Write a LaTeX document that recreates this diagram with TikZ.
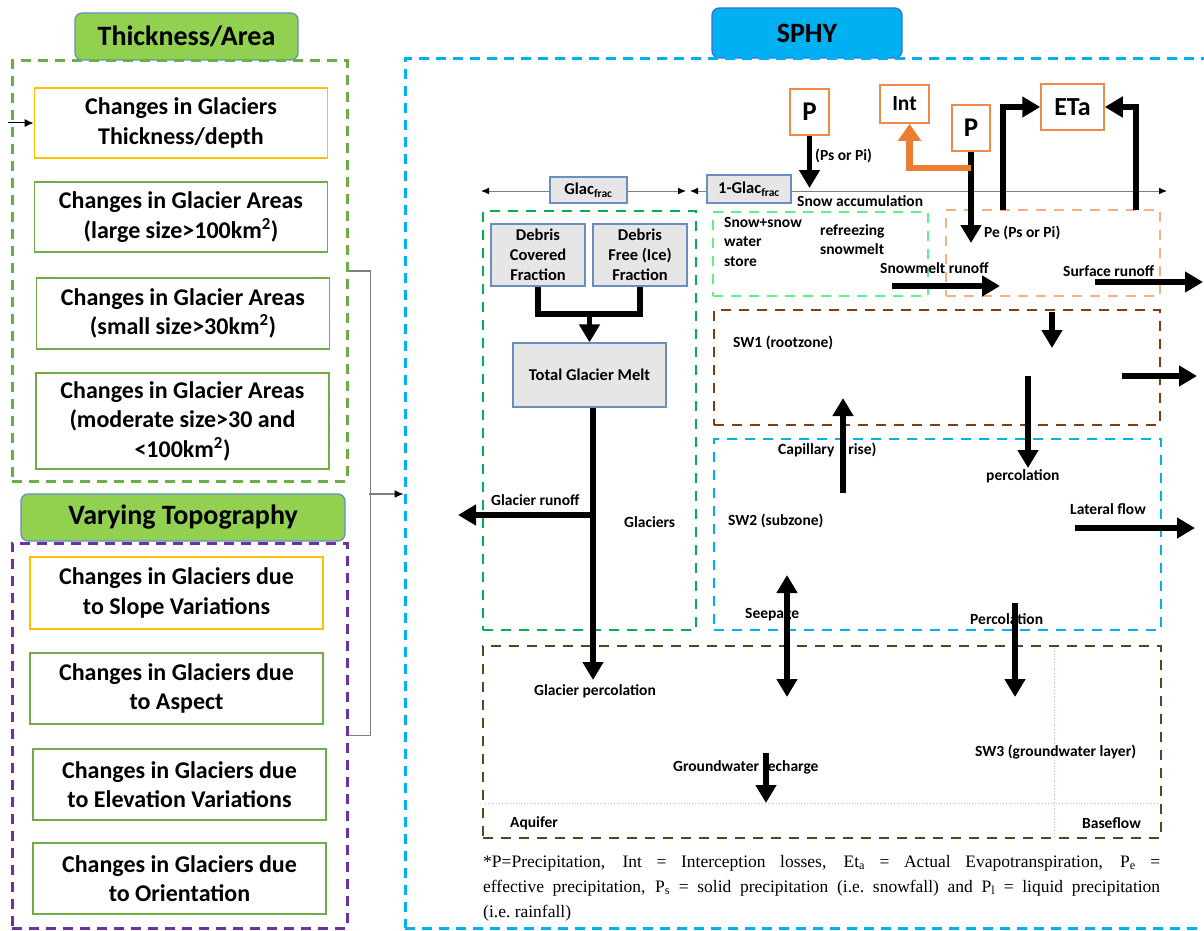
\documentclass[tikz,border=0pt]{standalone}
\usepackage{fontspec}
\setmainfont{Carlito}
\newfontfamily\notefont{Liberation Serif}
\usetikzlibrary{arrows.meta}

\definecolor{tabgreen}{HTML}{92D050}
\definecolor{tabedge}{HTML}{5B8EC9}
\definecolor{leftgreen}{HTML}{6BAE45}
\definecolor{boxgreen}{HTML}{70AD47}
\definecolor{boxorange}{HTML}{FFC000}
\definecolor{topopurple}{HTML}{7030A0}
\definecolor{sphyfill}{HTML}{00B0F0}
\definecolor{sphyedge}{HTML}{3A6FE0}
\definecolor{sphyblue}{HTML}{00B0F0}
\definecolor{glacgreen}{HTML}{00B050}
\definecolor{snowgreen}{HTML}{5EF08C}
\definecolor{peach}{HTML}{F4B183}
\definecolor{soilbrown}{HTML}{843C0C}
\definecolor{gwgreen}{HTML}{375623}
\definecolor{grayfill}{HTML}{E7E6E6}
\definecolor{grayedge}{HTML}{6A8FBF}
\definecolor{pbox}{HTML}{F08A4B}
\definecolor{intorange}{HTML}{ED7D31}
\definecolor{axisgray}{HTML}{7F7F7F}
\definecolor{dotblue}{HTML}{9DC3E6}

\begin{document}
\begin{tikzpicture}[
                x=1pt, y=-1pt,
                lbox/.style={draw=#1, line width=1.8pt, fill=white, minimum width=293pt, align=center, inner sep=0pt,
                             font=\fontsize{24}{29.5}\selectfont\bfseries},
                tabhead/.style={draw=tabedge, fill=#1, line width=1.2pt, rounded corners=7pt,
                                font=\fontsize{28}{30}\selectfont\bfseries},
                dashbox/.style={draw=#1, line width=3pt, dash pattern=on 10pt off 7pt},
                zone/.style={draw=#1, line width=2.6pt, dash pattern=on 10pt off 8pt},
                gbox/.style={draw=grayedge, fill=grayfill, line width=1.2pt, align=center, inner sep=0pt,
                             font=\fontsize{16.5}{20}\selectfont\bfseries},
                obox/.style={draw=pbox, fill=white, line width=1.5pt, inner sep=0pt,
                             font=\fontsize{27}{28}\selectfont\bfseries},
                lab/.style={anchor=west, inner sep=0pt, align=left, font=\fontsize{15.5}{19.5}\selectfont\bfseries},
                flow/.style={line width=5.5pt, -{Triangle[length=18pt,width=20pt]}},
                twoway/.style={line width=5.5pt, {Triangle[length=18pt,width=20pt]}-{Triangle[length=18pt,width=20pt]}},
                intflow/.style={draw=intorange, line width=6.5pt, -{Triangle[length=17pt,width=22pt]}},
                pipe/.style={line width=6pt},
                axisline/.style={draw=axisgray, line width=1pt},
                feed/.style={line width=1pt, -{Latex[length=9pt,width=8pt]}},
                bracket/.style={draw=axisgray, line width=1.2pt},
                dotline/.style={draw=dotblue, line width=0.8pt, dotted}
            ]

                \useasboundingbox (0,0) rectangle (1204,931);
                \clip (0,0) rectangle (1204,931);

                % left side
                \node[tabhead=tabgreen, minimum width=223pt, minimum height=47pt] (thicktab) at (186.5,36.5) {Thickness/Area};
                \node[tabhead=tabgreen, minimum width=324pt, minimum height=47pt] (topotab) at (183,517.5) {Varying Topography};
                \node[dashbox=leftgreen, minimum width=335pt, minimum height=420pt] (thickframe) at (179.5,271) {};
                \node[dashbox=topopurple, minimum width=335pt, minimum height=385pt] (topoframe) at (179.5,735.5) {};

                \foreach \n/\x/\y/\h/\c/\t in {
                    b1/181/123/70/boxorange/{Changes in Glaciers\\Thickness/depth},
                    b2/181/217/70/boxgreen/{Changes in Glacier Areas\\(large size>100km\textsuperscript{2})},
                    b3/183/313.5/71/boxgreen/{Changes in Glacier Areas\\(small size>30km\textsuperscript{2})},
                    b4/182.5/421/96/boxgreen/{Changes in Glacier Areas\\(moderate size>30 and\\<100km\textsuperscript{2})},
                    b5/176.5/593/72/boxorange/{Changes in Glaciers due\\to Slope Variations},
                    b6/176.5/688.5/71/boxgreen/{Changes in Glaciers due\\to Aspect},
                    b7/179.5/784.5/71/boxgreen/{Changes in Glaciers due\\to Elevation Variations},
                    b8/179.5/878.5/71/boxgreen/{Changes in Glaciers due\\to Orientation}} {
                    \node[lbox=\c, minimum height=\h pt] (\n) at (\x,\y) {\t};
                }

                \coordinate (feedin) at (8,123);
                \draw[feed] (feedin) -- (b1.west);

                % SPHY side
                \node[tabhead=sphyfill, draw=sphyedge, minimum width=190pt, minimum height=50pt] (sphytab) at (807,33) {SPHY};
                \node[dashbox=sphyblue, minimum width=810pt, minimum height=869pt] (sphyframe) at (810,493.5) {};

                \draw[bracket] (thickframe.east) -- ++(22,0) |- (topoframe.east);
                \coordinate (brk) at (369,494);
                \draw[bracket, -{Latex[length=9pt,width=8pt,color=black]}] (brk) -- (sphyframe.west |- brk);

                \coordinate (gl) at (481,191);
                \coordinate (gr) at (686,191);
                \coordinate (nl) at (690,191);
                \coordinate (nr) at (1167,191);
                \draw[axisline, {Latex[length=8pt,width=7pt,color=black]}-{Latex[length=8pt,width=7pt,color=black]}] (gl) -- (gr);
                \draw[axisline, {Latex[length=8pt,width=7pt,color=black]}-{Latex[length=8pt,width=7pt,color=black]}] (nl) -- (nr);
                \node[gbox, minimum width=77pt, minimum height=26pt] (glacfrac) at (588.5,190) {Glac\textsubscript{frac}};
                \node[gbox, minimum width=84pt, minimum height=28pt] (nonglac) at (749,189) {1-Glac\textsubscript{frac}};

                \node[zone=glacgreen, minimum width=213pt, minimum height=419pt] (glacframe) at (589.5,420.5) {};
                \node[zone=snowgreen, minimum width=215pt, minimum height=84pt] (snowframe) at (820.5,254) {};
                \node[zone=peach, minimum width=214pt, minimum height=86pt] (landframe) at (1053,253) {};
                \node[zone=soilbrown, minimum width=446pt, minimum height=115pt] (sw1) at (937,367.5) {};
                \node[zone=sphyblue, minimum width=447pt, minimum height=191pt] (sw2) at (937.5,534.5) {};
                \node[zone=gwgreen, minimum width=678pt, minimum height=192pt] (sw3) at (822,742) {};
                \draw[dotline] (485,803) -- (1159,803);
                \draw[dotline] (1054,648) -- (1054,836);

                \node[gbox, minimum width=94pt, minimum height=62pt] (covered) at (538,255) {Debris\\Covered\\Fraction};
                \node[gbox, minimum width=94pt, minimum height=62pt] (clean) at (640,255) {Debris\\Free (Ice)\\Fraction};
                \node[gbox, minimum width=153pt, minimum height=64pt] (totalmelt) at (589.5,375) {Total Glacier Melt};

                \node[obox, minimum width=39pt, minimum height=46pt] (rainA) at (809.5,112) {P};
                \node[obox, minimum width=49pt, minimum height=38pt, font=\fontsize{21.5}{22}\selectfont\bfseries] (int) at (904.5,104) {Int};
                \node[obox, minimum width=38pt, minimum height=46pt] (rainB) at (971,128) {P};
                \node[obox, minimum width=63pt, minimum height=46pt, font=\fontsize{26}{27}\selectfont\bfseries] (eta) at (1072.5,107) {ETa};

                \node[lab] (psi) at (815,156) {(Ps or Pi)};
                \node[lab] (snowacc) at (797,201) {Snow accumulation};
                \node[lab, anchor=north west] (store) at (724,217) {Snow+snow\\water\\store};
                \node[lab, anchor=north west] (refreeze) at (820,224) {refreezing\\snowmelt};
                \node[lab] (pe) at (984,233) {Pe (Ps or Pi)};
                \node[lab] (meltlab) at (880,268) {Snowmelt runoff};
                \node[lab] (surflab) at (1063,271) {Surface runoff};
                \node[lab] (sw1lab) at (733,343) {SW1 (rootzone)};
                \node[lab] (capilab) at (778,450) {Capillary\hspace{0.9em}rise)};
                \node[lab] (perclab) at (986,476) {percolation};
                \node[lab] (latlab) at (1070,509) {Lateral flow};
                \node[lab] (sw2lab) at (728,521) {SW2 (subzone)};
                \node[lab] (grunlab) at (491,500) {Glacier runoff};
                \node[lab] (glaclab) at (624,522) {Glaciers};
                \node[lab] (seeplab) at (745,615) {Seepage};
                \node[lab] (perc3lab) at (970,619) {Percolation};
                \node[lab] (gperclab) at (534,691) {Glacier percolation};
                \node[lab] (sw3lab) at (975,752) {SW3 (groundwater layer)};
                \node[lab] (rechlab) at (673,767) {Groundwater recharge};
                \node[lab] (aqlab) at (510,823) {Aquifer};
                \node[lab, anchor=east] (baselab) at (1141,823) {Baseflow};

                \draw[pipe] (covered.south) -- ++(0,27) coordinate (join) -| (clean.south);
                \draw[flow] (join -| totalmelt.north) -- (totalmelt.north);
                \coordinate (gperc) at (593,680);
                \draw[flow] (totalmelt.south -| gperc) -- (gperc);
                \coordinate (gsplit) at (593,515);
                \coordinate (grun) at (458,515);
                \draw[flow] (gsplit) -- (grun);

                \coordinate (snowfall) at (810,188);
                \draw[flow] (rainA.south) -- (rainA.south |- snowfall);
                \coordinate (pedrop) at (971,243);
                \draw[flow] (rainB.south) -- (pedrop);
                \coordinate (intbranch) at (971,168);
                \draw[intflow] (intbranch) -| ([xshift=5pt]int.south);
                \coordinate (etsoil) at (1003,210);
                \coordinate (etsurf) at (1136,210);
                \draw[flow] (etsoil) |- (eta.west);
                \draw[flow] (etsurf) |- (eta.east);

                \foreach \nm/\ax/\ay/\bx/\by in {meltrun/892/286/1000/286, surfrun/1095/282/1203/282,
                    infil/1052/312/1052/348, sw1out/1122/376/1197/376, perc/1028/376/1028/468,
                    capil/843/493/843/398, lateral/1075/528/1195/528, perc3/1015/603/1015/697,
                    recharge/766/753/766/803} {
                    \coordinate (\nm-a) at (\ax,\ay);
                    \coordinate (\nm-b) at (\bx,\by);
                    \draw[flow] (\nm-a) -- (\nm-b);
                }
                \coordinate (seepA) at (787,575);
                \coordinate (seepB) at (787,697);
                \draw[twoway] (seepA) -- (seepB);

                \node[anchor=north west, inner sep=0pt, text width=677pt, align=justify,
                      font=\notefont\fontsize{17.5}{25}\selectfont] (note) at (483,855)
                    {*P=Precipitation, Int = Interception losses, Et\textsubscript{a} = Actual Evapotranspiration, P\textsubscript{e} =\linebreak
                     effective precipitation, P\textsubscript{s} = solid precipitation (i.e.\ snowfall) and P\textsubscript{l} = liquid precipitation\linebreak
                     (i.e.\ rainfall)};
            \end{tikzpicture}
\end{document}
